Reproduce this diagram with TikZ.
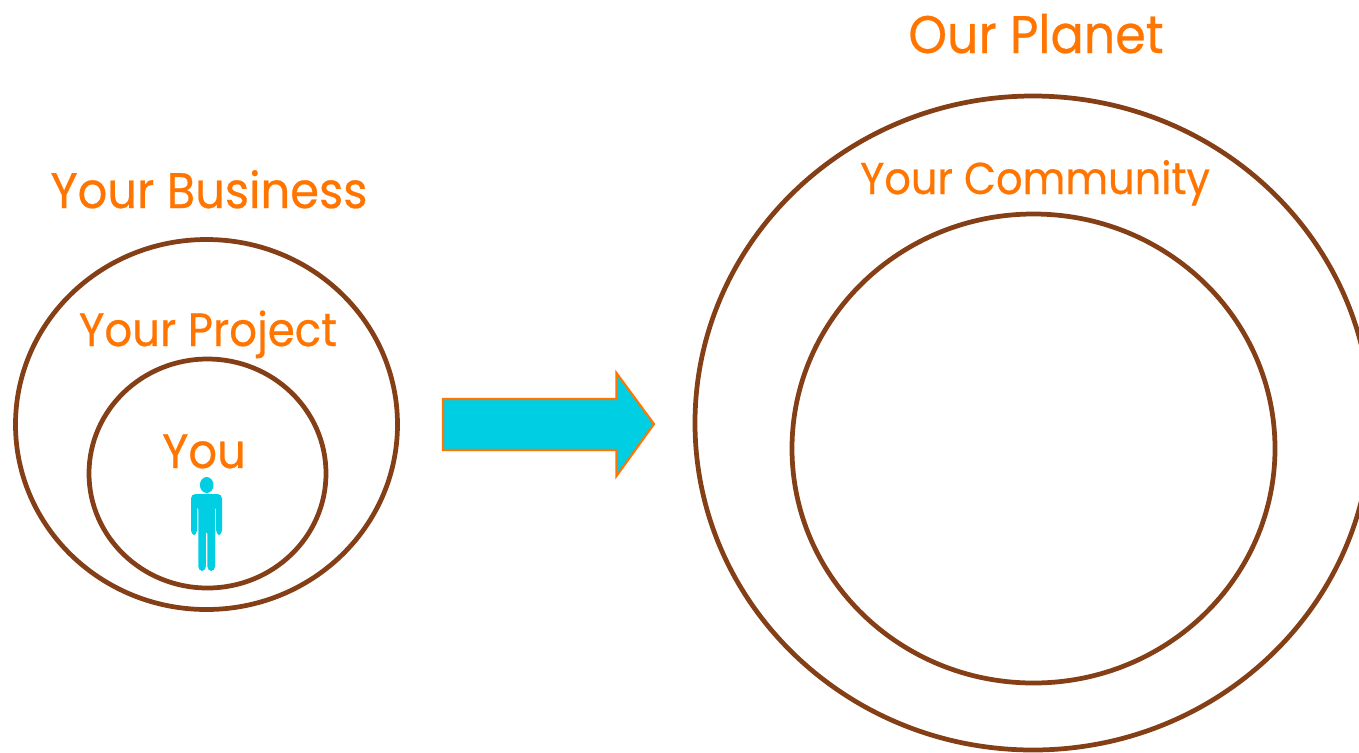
\documentclass[tikz,border=0pt]{standalone}
\usepackage{fontspec}
\newfontfamily\labelfont{Poppins}[FakeBold=0.5, FakeStretch=0.93]
\definecolor{ringbrown}{HTML}{843F17}
\definecolor{labelorange}{HTML}{FF7500}
\definecolor{arrowcyan}{HTML}{00CEE3}
\tikzset{
	ring/.style={draw=ringbrown, line width=2.7pt},
	orangelabel/.style={text=labelorange, anchor=base, inner sep=0pt, font=\labelfont\fontsize{#1}{34}\selectfont}
}
\begin{document}
\begin{tikzpicture}[x=0.02cm, y=-0.02cm]
	\useasboundingbox (0, 0) rectangle (1359, 752);
	\clip (0, 0) rectangle (1359, 752);

	\draw[ring]	(206.5, 424.5) ellipse [x radius=191, y radius=185];
	\draw[ring]	(207.5, 473.5) ellipse [x radius=118.5, y radius=114.5];
	\draw[ring]	(1033, 423) ellipse [x radius=338, y radius=327];
	\draw[ring]	(1033.5, 448.5) ellipse [x radius=241.5, y radius=234.5];

	\node[orangelabel=28.4] (business) at (209, 208) {Your Business};
	\node[orangelabel=26.6] (project) at (208, 346) {Your Project};
	\node[orangelabel=27.4] (you) at (204, 468) {You};
	\node[orangelabel=30.1] (planet) at (1036, 53) {Our Planet};
	\node[orangelabel=25.4] (community) at (1035, 194) {Your Community};

	\filldraw[fill=arrowcyan, draw=labelorange, line width=1.2pt, line join=miter]
		(443, 399) -- (616.5, 399) -- (616.5, 373) -- (654, 424)
		-- (616.5, 476) -- (616.5, 450) -- (443, 450) -- cycle;

	\fill[arrowcyan]	(206.7, 485) ellipse [x radius=6.8, y radius=8];
	\fill[arrowcyan, rounded corners=2.5]
		(191, 535) -- (191, 494) -- (222, 494) -- (222, 535) -- (216.2, 535) -- (216.2, 505)
		-- (215, 505) -- (215, 571) -- (207.4, 571) -- (207.4, 529.5) -- (205.8, 529.5)
		-- (205.8, 571) -- (198.3, 571) -- (198.3, 505) -- (197, 505) -- (197, 535) -- cycle;
\end{tikzpicture}
\end{document}
